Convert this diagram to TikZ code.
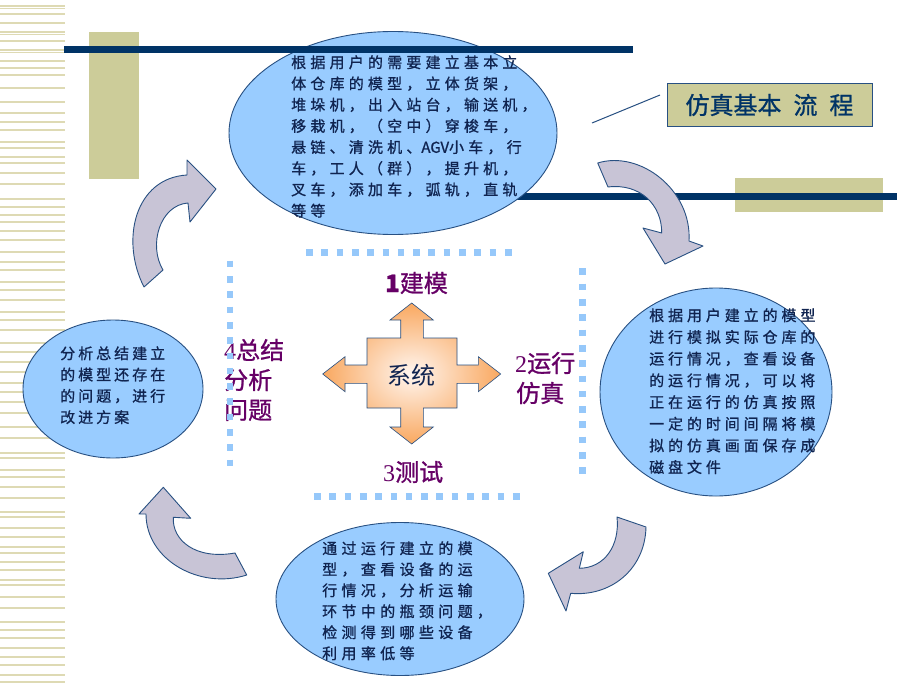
\documentclass[tikz,border=0pt]{standalone}
\usepackage{fontspec}
\setmainfont{Liberation Serif}
\newfontfamily\cjk{Noto Sans CJK SC}
\newfontfamily\cjkB[FakeBold=1]{Noto Sans CJK SC}
\newfontfamily\cjkTop[LetterSpace=28,FakeBold=1]{Noto Sans CJK SC}
\newfontfamily\cjkRight[LetterSpace=26,FakeBold=1]{Noto Sans CJK SC}
\newfontfamily\cjkBot[LetterSpace=29,FakeBold=1]{Noto Sans CJK SC}
\newfontfamily\cjkLeft[LetterSpace=20,FakeBold=1]{Noto Sans CJK SC}
\usetikzlibrary{shapes.geometric}
\definecolor{navybar}{RGB}{0,51,102}
\definecolor{tanfill}{RGB}{204,204,153}
\definecolor{ellfill}{RGB}{153,204,255}
\definecolor{ellline}{RGB}{40,80,130}
\definecolor{arrfill}{RGB}{200,196,214}
\definecolor{txtblue}{RGB}{16,36,80}
\definecolor{lblpurple}{RGB}{102,0,102}
\definecolor{dotblue}{RGB}{150,200,250}
\definecolor{stripe}{RGB}{222,218,180}
\definecolor{crossout}{RGB}{249,168,96}
\definecolor{crossin}{RGB}{255,246,240}
\begin{document}
\begin{tikzpicture}[x=1pt,y=-1pt,
  ell/.style={ellipse, draw=ellline, fill=ellfill, line width=0.9pt, inner sep=0pt},
  carrow/.style={draw=ellline, fill=arrfill, line width=0.9pt, line join=round},
  etext/.style={anchor=base west, inner sep=0pt, text=txtblue},
  lbl/.style={anchor=west, inner sep=0pt, text=lblpurple, font=\cjkB\fontsize{24}{28}\selectfont},
  dots/.style={draw=dotblue, line width=6.6pt, dash pattern=on 6.6pt off 8.7pt},
  bar/.style={fill=navybar},
  tanbox/.style={fill=tanfill}]
\useasboundingbox (0,0) rectangle (920,690);
\fill[white] (0,0) rectangle (920,690);
% left stripes
\foreach \y in {6,8.5,14,23,32,34.5,41,50,52.5,61,68,75,88,102,113,122,130,142,148,157,163,173,184,199,207,215,222,231,240,252,262,270,282,290,300,312,320,330,343,352,362,372,383,392,402,413,427,438,453,458,470,477,487,498,512,517,528,537,547,553,562,570,580,585,597,608,622,630,638,648,657,665,675,682}
  \draw[stripe, line width=1.6pt] (0,\y) -- (65,\y);
% background bars
\fill[tanbox] (89,32) rectangle (139,179);
\fill[tanbox] (735,178) rectangle (883,212);
\fill[bar] (480,193) rectangle (897,200);
% top ellipse
\node[ell, minimum width=328pt, minimum height=203pt] (E1) at (393,133) {};
\fill[bar] (64,46) rectangle (633,53);
% curved arrows
\path[carrow] (144,287) .. controls (120,240) and (135,178) .. (187,175) -- (187,160) -- (216,189) -- (190,222) -- (188,203)
  .. controls (160,205) and (148,245) .. (163,270) -- cycle;
\path[carrow] (597.7,163) .. controls (640,150) and (692,190) .. (689,241) -- (703,246) -- (665,264) -- (643,228) -- (661.7,233)
  .. controls (662,205) and (640,183) .. (608,187) -- cycle;
\path[carrow] (646,527) .. controls (645,570) and (610,597) .. (570.7,593.3) -- (566,611) -- (548.3,573.3) -- (583.3,551.7) -- (579.3,568.3)
  .. controls (605,568) and (620,545) .. (617,517) -- cycle;
\path[carrow] (163.3,487.3) -- (190.7,518.3) -- (173.3,517.3) .. controls (172,540) and (195,560) .. (235,553) -- (246.7,575)
  .. controls (200,590) and (146,560) .. (146,514) -- (139,514) -- cycle;
% other ellipses
\node[ell, minimum width=232pt, minimum height=208pt] (E2) at (716,392) {};
\node[ell, minimum width=248pt, minimum height=153pt] (E3) at (400,599) {};
\node[ell, minimum width=180pt, minimum height=138pt] (E4) at (113,389) {};
% ellipse texts
\foreach \l [count=\i] in {根据用户的需要建立基本立,体仓库的模型，立体货架，,堆垛机，出入站台，输送机，,移栽机，（空中）穿梭车，,悬链、清洗机、{\cjkB AGV}小车，行,车，工人（群），提升机，,叉车，添加车，弧轨，直轨,等等}
  \node[etext, font=\cjkTop\fontsize{15}{18}\selectfont] (ta\i) at (291,{68+21.2*(\i-1)}) {\l};
\foreach \l [count=\i] in {根据用户建立的模型,进行模拟实际仓库的,运行情况，查看设备,的运行情况，可以将,正在运行的仿真按照,一定的时间间隔将模,拟的仿真画面保存成,磁盘文件}
  \node[etext, font=\cjkRight\fontsize{15}{18}\selectfont] (tb\i) at (649,{321+21.7*(\i-1)}) {\l};
\foreach \l [count=\i] in {通过运行建立的模,型，查看设备的运,行情况，分析运输,环节中的瓶颈问题，,检测得到哪些设备,利用率低等}
  \node[etext, font=\cjkBot\fontsize{15}{18}\selectfont] (tc\i) at (322,{554+21*(\i-1)}) {\l};
\foreach \l [count=\i] in {分析总结建立,的模型还存在,的问题，进行,改进方案}
  \node[etext, font=\cjkLeft\fontsize{15}{18}\selectfont] (td\i) at (60,{359+21.3*(\i-1)}) {\l};
% title
\node[draw=ellline, fill=tanfill, line width=1pt, minimum width=205pt, minimum height=42pt, inner sep=0pt,
  text=navybar, font=\cjkB\fontsize{24}{28}\selectfont] (title) at (769.5,105) {仿真基本\hspace{12pt}流\hspace{12pt}程};
\coordinate (c1) at (592,123);
\coordinate (c2) at (660,95);
\draw[ellline, line width=1pt] (c1) -- (c2);
% central cross
\path[draw=ellline, line width=0.6pt, shading=radial, inner color=crossin, outer color=crossout]
  (411.7,303) -- (433.3,320) -- (423.3,320) -- (423.3,338) -- (457,338) -- (457,365) -- (478.3,365) -- (478.3,356.7)
  -- (500.7,374) -- (478.3,391.7) -- (478.3,383.3) -- (457,383.3) -- (457,408) -- (423.3,408) -- (423.3,427)
  -- (433.3,427) -- (411.7,444) -- (390,427) -- (400.7,427) -- (400.7,408) -- (367,408) -- (367,383.3)
  -- (345,383.3) -- (345,391.7) -- (322.7,374) -- (345,356.7) -- (345,365) -- (367,365) -- (367,338)
  -- (400.7,338) -- (400.7,320) -- (390,320) -- cycle;
\node[inner sep=0pt, text=txtblue, font=\cjk\fontsize{24}{28}\selectfont] (sys) at (411.7,375) {系统};
% labels
\node[lbl] (l1) at (385,283) {{\bfseries 1}建模};
\node[lbl] (l2a) at (515,363) {{\rmfamily 2}运行};
\node[lbl] (l2b) at (516,393) {仿真};
\node[lbl] (l3) at (383,472) {{\rmfamily 3}测试};
\node[lbl] (l4a) at (224,350) {{\rmfamily 4}总结};
\node[lbl] (l4b) at (224,380) {分析};
\node[lbl] (l4c) at (224,410) {问题};
% dotted frame
\draw[dots] (306,252.7) -- (513,252.7);
\draw[dots] (314,496.7) -- (521,496.7);
\draw[dots] (230,260.7) -- (230,467);
\draw[dots] (582.7,268.4) -- (582.7,475);
\end{tikzpicture}
\end{document}
